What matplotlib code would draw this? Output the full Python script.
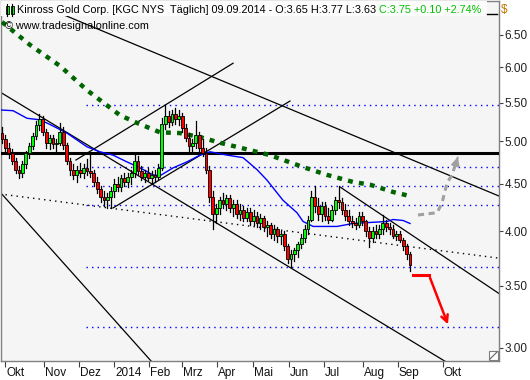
import matplotlib
matplotlib.use("Agg")
import matplotlib.pyplot as plt
from matplotlib.patches import Rectangle
from matplotlib.lines import Line2D
import numpy as np

# ---------------- data ----------------
# 2-trading-day candles, x = trading-day index
bar_x = list(range(0, 241, 2))
opens = [5.10,5.02,4.92,4.85,4.76,4.66,4.62,4.72,4.85,4.94,5.06,5.20,5.28,5.12,4.98,5.04,4.96,4.98,5.12,4.95,
         4.76,4.65,4.60,4.66,4.62,4.68,4.64,4.62,4.52,4.44,4.36,4.32,4.36,4.42,4.50,4.46,4.56,4.52,4.58,4.62,
         4.76,4.64,4.58,4.62,4.56,4.60,4.58,4.68,5.22,5.32,5.24,5.34,5.28,5.32,5.16,5.04,4.94,4.98,5.08,4.92,
         4.86,4.66,4.36,4.18,4.24,4.32,4.28,4.34,4.24,4.28,4.18,4.22,4.14,4.20,4.10,4.16,4.08,4.14,4.04,4.06,
         3.98,4.02,3.96,3.98,3.86,3.74,3.78,3.82,3.88,3.94,4.02,4.12,4.36,4.26,4.18,4.26,4.16,4.12,4.22,4.32,
         4.30,4.22,4.16,4.10,4.08,4.06,4.16,4.10,4.00,3.94,4.00,3.98,4.02,4.08,4.04,4.02,3.96,3.98,3.92,3.86,3.78]
highs = [5.18,5.08,4.98,4.90,4.80,4.70,4.76,4.88,4.98,5.10,5.25,5.34,5.32,5.15,5.08,5.08,5.02,5.23,5.18,4.98,
         4.80,4.72,4.70,4.74,4.72,4.78,4.85,4.66,4.58,4.48,4.42,4.40,4.46,4.55,4.58,4.60,4.62,4.62,4.66,4.85,
         4.82,4.70,4.66,4.68,4.64,4.66,4.72,5.30,5.47,5.38,5.40,5.42,5.40,5.36,5.22,5.10,5.02,5.25,5.12,5.02,
         4.92,4.70,4.42,4.28,4.36,4.40,4.38,4.38,4.32,4.32,4.28,4.26,4.24,4.24,4.22,4.20,4.18,4.16,4.10,4.08,
         4.06,4.04,4.00,4.00,3.88,3.82,3.84,3.90,3.98,4.06,4.16,4.42,4.48,4.34,4.30,4.30,4.24,4.26,4.36,4.47,
         4.34,4.28,4.22,4.16,4.14,4.20,4.20,4.12,4.04,4.04,4.06,4.06,4.17,4.12,4.08,4.06,4.00,4.00,3.94,3.88,3.80]
lows = [4.98,4.88,4.80,4.72,4.62,4.56,4.58,4.68,4.80,4.90,5.02,5.14,5.08,4.92,4.90,4.92,4.88,4.95,4.90,4.72,
        4.60,4.55,4.52,4.58,4.56,4.60,4.58,4.48,4.40,4.30,4.26,4.24,4.24,4.36,4.42,4.42,4.48,4.46,4.50,4.58,
        4.60,4.54,4.52,4.54,4.50,4.52,4.55,4.66,5.15,5.18,5.20,5.22,5.20,5.12,5.00,4.88,4.86,4.92,4.86,4.82,
        4.62,4.30,4.02,4.08,4.18,4.24,4.22,4.20,4.16,4.14,4.12,4.10,4.10,4.06,4.06,4.04,4.02,4.00,3.96,3.94,
        3.92,3.90,3.88,3.82,3.70,3.66,3.72,3.76,3.84,3.90,3.98,4.10,4.20,4.12,4.10,4.12,4.08,4.10,4.18,4.24,
        4.18,4.12,4.06,4.04,4.02,4.04,4.06,3.96,3.85,3.90,3.94,3.94,3.98,4.00,3.98,3.94,3.92,3.90,3.82,3.74,3.63]
closes = [5.02,4.92,4.85,4.76,4.66,4.62,4.72,4.85,4.94,5.06,5.20,5.28,5.12,4.98,5.04,4.96,4.98,5.12,4.95,4.76,
          4.65,4.60,4.66,4.62,4.68,4.64,4.62,4.52,4.44,4.36,4.32,4.36,4.42,4.50,4.46,4.56,4.52,4.58,4.62,4.76,
          4.64,4.58,4.62,4.56,4.60,4.58,4.68,5.22,5.32,5.24,5.34,5.28,5.32,5.16,5.04,4.94,4.98,5.08,4.92,4.86,
          4.66,4.36,4.18,4.24,4.32,4.28,4.34,4.24,4.28,4.18,4.22,4.14,4.20,4.10,4.16,4.08,4.14,4.04,4.06,3.98,
          4.02,3.96,3.98,3.86,3.74,3.78,3.82,3.88,3.94,4.02,4.12,4.36,4.26,4.18,4.26,4.16,4.12,4.22,4.32,4.30,
          4.22,4.16,4.10,4.08,4.06,4.16,4.10,4.00,3.94,4.00,3.98,4.02,4.08,4.04,4.02,3.96,3.98,3.92,3.86,3.78,3.68]

# moving averages
ma200_x = [0, 16.5, 34.1, 50, 69.4, 79.4, 92.9, 104.7, 116.5, 128.2, 140, 157.6, 177, 191.2, 206.5, 216.5, 230, 241.2]
ma200_y = [6.71, 6.34, 6.02, 5.67, 5.33, 5.23, 5.11, 5.10, 5.05, 4.98, 4.92, 4.83, 4.69, 4.60, 4.52, 4.49, 4.41, 4.36]
ma50_x = [-1.2, 6.5, 14.7, 22.4, 28.2, 38.2, 50, 57.6, 65.3, 73.5, 81.2, 88.8, 92.9, 100.6, 108.8, 116.5, 122.4,
          132.4, 141.8, 150, 155.9, 165.3, 173.5, 177.1, 183, 197.1, 206.5, 226.5, 230, 235.9, 240]
ma50_y = [5.40, 5.39, 5.29, 5.27, 5.21, 5.10, 4.93, 4.87, 4.83, 4.75, 4.68, 4.60, 4.59, 4.68, 4.75, 4.83, 4.87,
          4.83, 4.80, 4.66, 4.54, 4.32, 4.19, 4.10, 4.05, 4.05, 4.08, 4.10, 4.12, 4.11, 4.08]

# horizontal levels
support_level = 4.85
dotted_levels = [5.46, 4.69, 4.48, 4.27, 3.66, 3.16]
dotted_start = 49.6

# trend lines: (x0, y0, x1, y1, extend_left, extend_right)
trend_lines = [
    (104.7, 6.06, 291.8, 4.37, True, True),     # upper channel
    (-1.2, 5.645, 259.4, 2.912, True, True),    # middle channel
    (-1.2, 4.41, 88.2, 2.898, True, True),      # steep lower line
    (43.5, 4.772, 135.9, 6.06, False, False),   # rising 1
    (65.3, 4.239, 169.4, 5.52, False, False),   # rising 2
    (198.8, 4.465, 291.8, 3.437, False, True),  # July channel
]
dotted_trend = (-1.2, 4.388, 291.8, 3.746)

# projections
red_x = [241.8, 251.2, 262.9]
red_y = [3.59, 3.59, 3.16]
gray_x = [244.7, 255.9, 258.8, 261.8, 264.7, 267.6, 268.6]
gray_y = [4.166, 4.19, 4.29, 4.51, 4.60, 4.77, 4.84]

month_pos = [1.9, 24.5, 45.1, 65.9, 86.6, 105.7, 126.6, 147.5, 168.6, 189.6, 212.2, 232.8, 259.2]
month_lbl = ["Okt", "Nov", "Dez", "2014", "Feb", "Mrz", "Apr", "Mai", "Jun", "Jul", "Aug", "Sep", "Okt"]
y_ticks = [3.0, 3.5, 4.0, 4.5, 5.0, 5.5, 6.0, 6.5]

# ---------------- figure ----------------
plt.rcParams['font.family'] = ['Liberation Sans', 'DejaVu Sans']
W, H = 530, 380
FS = 7.8
fig = plt.figure(figsize=(W / 100, H / 100), dpi=100)
fig.patch.set_facecolor('white')
ax = fig.add_axes([1 / W, 1 - 361 / H, 498 / W, 360 / H])
ax.set_facecolor('#f5f5f5')
for s in ax.spines.values():
    s.set_color('#808080')
    s.set_linewidth(1)

ax.set_yscale('log')
ax.set_ylim(2.905, 7.067)
ax.set_xlim(-0.59, 292.35)

# levels
ax.axhline(support_level, color='black', lw=2.2, zorder=3)
for lv in dotted_levels:
    ax.plot([dotted_start, 292.35], [lv, lv], color='#0000ff', lw=1.0, ls=(0, (1, 3)), zorder=2)

# trend lines
for (x0, y0, x1, y1, el, er) in trend_lines:
    slope = (np.log(y1) - np.log(y0)) / (x1 - x0)
    xa = x0 - 150 if el else x0
    xb = x1 + 150 if er else x1
    xs = np.array([xa, xb])
    ys = np.exp(np.log(y0) + slope * (xs - x0))
    ax.plot(xs, ys, color='black', lw=0.9, zorder=2)
x0, y0, x1, y1 = dotted_trend
ax.plot([x0, x1], [y0, y1], color='black', lw=1.0, ls=(0, (1, 3)), zorder=2)

# moving averages
ax.plot(ma50_x, ma50_y, color='#0000ff', lw=1.0, zorder=4)
ax.plot(ma200_x, ma200_y, color='#006400', lw=3.2, dashes=(1.1, 1.4), zorder=4)

# candles
for x, o, h, l, c in zip(bar_x, opens, highs, lows, closes):
    ax.plot([x, x], [l, h], color='black', lw=0.9, zorder=5)
    col = '#00ff00' if c >= o else '#ff0000'
    lo, hi = min(o, c), max(o, c)
    if hi - lo < 0.01:
        hi = lo + 0.01
    ax.add_patch(Rectangle((x - 0.8, lo), 1.6, hi - lo, facecolor=col, edgecolor='black',
                           lw=0.6, zorder=6))

# projections
ax.plot(red_x[:2], red_y[:2], color='#ff0000', lw=2.2, zorder=7)
ax.annotate('', xy=(red_x[2], red_y[2]), xytext=(red_x[1], red_y[1]),
            arrowprops=dict(arrowstyle='->', color='#ff0000', lw=1.8, mutation_scale=12), zorder=7)
ax.plot(gray_x[:-1], gray_y[:-1], color='#a0a0a0', lw=2.2, dashes=(2, 1.5), zorder=7)
ax.annotate('', xy=(gray_x[-1], gray_y[-1]), xytext=(gray_x[-2], gray_y[-2]),
            arrowprops=dict(arrowstyle='-|>', color='#a0a0a0', lw=1.5, mutation_scale=12), zorder=7)

# y axis (right)
ax.yaxis.tick_right()
ax.set_yticks(y_ticks)
ax.set_yticklabels(['%.2f' % v for v in y_ticks])
ax.yaxis.set_minor_locator(matplotlib.ticker.NullLocator())
ax.tick_params(axis='y', which='major', direction='out', length=3, width=0.8, color='#404040',
               labelsize=8.5, pad=1, labelcolor='#202020')

# x axis
ax.set_xticks(month_pos)
ax.set_xticklabels([])
ax.tick_params(axis='x', which='major', direction='out', length=4, width=0.8, color='#404040', pad=0)
for p, lbl in zip(month_pos, month_lbl):
    ax.annotate(lbl, xy=(p, 0), xycoords=('data', 'axes fraction'), xytext=(1, -12),
                textcoords='offset pixels', ha='left', va='center', fontsize=8.5, color='#101010',
                annotation_clip=False)

# title box and texts
fig.patches.append(Rectangle((1 / W, 1 - 16 / H), 486 / W, 15 / H, transform=fig.transFigure,
                             facecolor='#fcfcfc', edgecolor='none', zorder=1))
fig.lines.append(Line2D([487 / W, 497 / W], [1 - 14 / H, 1 - 14 / H],
                        transform=fig.transFigure, color='black', lw=1))
# small candle icon
for cx in (7, 12):
    fig.lines.append(Line2D([cx / W, cx / W], [1 - 4 / H, 1 - 16 / H],
                            transform=fig.transFigure, color='black', lw=0.8))
    fig.patches.append(Rectangle(((cx - 1.5) / W, 1 - 14 / H), 3 / W, 8 / H, transform=fig.transFigure,
                                 facecolor='#00ff00', edgecolor='black', lw=0.6))

t1 = fig.text(17 / W, 1 - 10 / H,
              "Kinross Gold Corp. [KGC NYS  Täglich] 09.09.2014 - O:3.65 H:3.77 L:3.63 ",
              fontsize=FS, color='black', va='center', ha='left')
fig.canvas.draw()
bb = t1.get_window_extent()
fig.text(bb.x1 / W, 1 - 10 / H, "C:3.75 +0.10 +2.74%", fontsize=FS, color='#00c000',
         va='center', ha='left')
fig.text(5 / W, 1 - 26 / H, "© www.tradesignalonline.com", fontsize=FS, color='black',
         va='center', ha='left')
fig.text(501 / W, 1 - 10 / H, "$", fontsize=8.5, color='#c07800', va='center', ha='left')

# resize grip
fig.patches.append(Rectangle((489 / W, 1 - 360 / H), 9 / W, 9 / H, transform=fig.transFigure,
                             facecolor='white', edgecolor='#808080', lw=0.8))
fig.lines.append(Line2D([490 / W, 497 / W], [1 - 359 / H, 1 - 352 / H],
                        transform=fig.transFigure, color='#606060', lw=0.8))

fig.savefig('out.png', dpi=100)
